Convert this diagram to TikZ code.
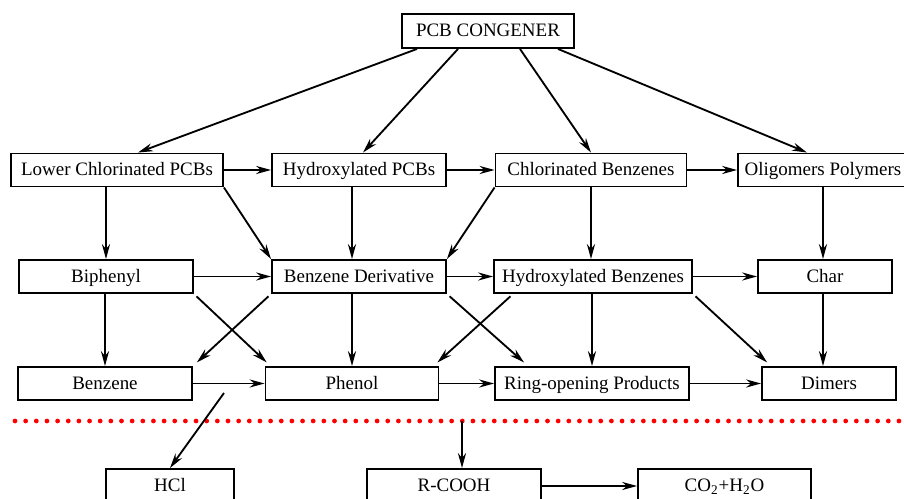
\documentclass[tikz,border=0pt]{standalone}
\usepackage{fontspec}
\setmainfont{Liberation Serif}
\usetikzlibrary{calc, arrows.meta, positioning}

\begin{document}
\begin{tikzpicture}[x=0.02cm, y=-0.02cm, >={Stealth[length=8.5pt, width=4.6pt]}, line width=1.05pt,
    box/.style={draw, line width=1.1pt, minimum height=0.66cm, inner sep=0pt,
      text height=7.1pt, text depth=0.6pt, font=\fontsize{10.8}{13}\selectfont}]
      \useasboundingbox (0,0) rectangle (904,499);

      % --- Top node ---
      \node[box, minimum width=3.44cm, minimum height=0.68cm] (pcb) at (488,31) {PCB CONGENER};

      % --- First row ---
      \node[box, minimum width=4.24cm] (lcp) at (117,170) {Lower Chlorinated PCBs};
      \node[box, minimum width=3.48cm] (hpcb) at (359,170) {Hydroxylated PCBs};
      \node[box, minimum width=3.82cm] (cb) at (591,170) {Chlorinated Benzenes};
      \node[box, minimum width=3.40cm] (olig) at (823,170) {Oligomers Polymers};

      % --- Second row ---
      \node[box, minimum width=3.48cm] (bip) at (106,276.5) {Biphenyl};
      \node[box, minimum width=3.48cm] (bder) at (359,276.5) {Benzene Derivative};
      \node[box, minimum width=3.96cm] (hb) at (593,276.5) {Hydroxylated Benzenes};
      \node[box, minimum width=2.68cm] (char) at (825,276.5) {Char};

      % --- Third row ---
      \node[box, minimum width=3.48cm] (benz) at (105,383.5) {Benzene};
      \node[box, minimum width=3.46cm] (phen) at (352,383.5) {Phenol};
      \node[box, minimum width=3.88cm] (ring) at (592,383.5) {Ring-opening Products};
      \node[box, minimum width=2.68cm] (dim) at (829,383.5) {Dimers};

      % --- Red dotted separation line ---
      \foreach \i in {0,...,83}
        \fill[red] ({15+10.65*\i},421) circle (1.35pt);

      % --- Final products ---
      \node[box, minimum width=2.56cm, minimum height=0.68cm] (hcl) at (170,486) {HCl};
      \node[box, minimum width=3.48cm, minimum height=0.68cm] (rcooh) at (454,486) {R-COOH};
      \node[box, minimum width=3.46cm, minimum height=0.68cm] (co2) at (724.5,486) {CO\textsubscript{2}+H\textsubscript{2}O};

      \coordinate (hclsrc) at (224,393);
      \coordinate (rsrc) at (462,421);

      % --- Arrows from the congener ---
      \draw[->] ($(pcb.south)+(-71,0)$) -- ($(lcp.north)+(21,0)$);
      \draw[->] ($(pcb.south)+(-30,0)$) -- ($(hpcb.north)+(4,0)$);
      \draw[->] ($(pcb.south)+(32,0)$) -- (cb.north);
      \draw[->] ($(pcb.south)+(70,0)$) -- ($(olig.north)+(-16,0)$);

      % --- Horizontal arrows ---
      \draw[->] (lcp) -- (hpcb);
      \draw[->] (hpcb) -- (cb);
      \draw[->] (cb) -- (olig);
      \draw[->] (bip) -- (bder);
      \draw[->] (bder) -- (hb);
      \draw[->] (hb) -- (char);
      \draw[->] (benz) -- (phen);
      \draw[->] (phen) -- (ring);
      \draw[->] (ring) -- (dim);
      \draw[->] (rcooh) -- (co2);

      % --- Vertical arrows ---
      \draw[->] (bip.north |- lcp.south) -- (bip.north);
      \draw[->] (phen.north |- hpcb.south) -- (phen.north |- bder.north);
      \draw[->] (cb.south) -- (cb.south |- hb.north);
      \draw[->] (olig.south) -- (olig.south |- char.north);
      \draw[->] (benz.north |- bip.south) -- (benz.north);
      \draw[->] (phen.north |- bder.south) -- (phen.north);
      \draw[->] (ring.north |- hb.south) -- (ring.north);
      \draw[->] (olig.south |- char.south) -- (olig.south |- dim.north);
      \draw[->] (rsrc) -- (rsrc |- rcooh.north);

      % --- Diagonal arrows ---
      \draw[->] (lcp.south east) -- (bder.north west);
      \draw[->] (cb.south west) -- (bder.north east);
      \draw[->, shorten <=2pt, shorten >=3pt] (bip.south east) -- ($(phen.north west)+(6,0)$);
      \draw[->, shorten <=2pt, shorten >=3pt] (bder.south west) -- (benz.north east);
      \draw[->, shorten <=2pt, shorten >=3pt] (bder.south east) -- ($(ring.north west)+(34,0)$);
      \draw[->, shorten <=2pt, shorten >=3pt] ($(hb.south west)+(20,0)$) -- ($(phen.north east)+(-6,0)$);
      \draw[->, shorten <=2pt, shorten >=3pt] (hb.south east) -- ($(dim.north west)+(10,0)$);
      \draw[->] (hclsrc) -- (hcl.north);
\end{tikzpicture}
\end{document}
